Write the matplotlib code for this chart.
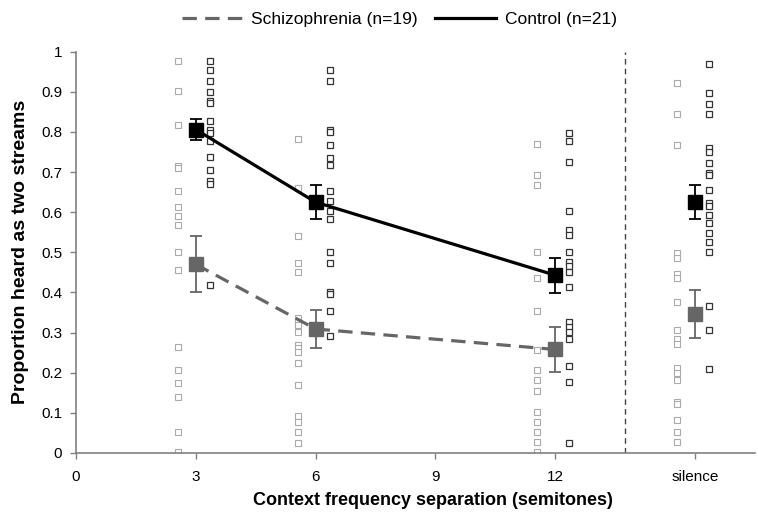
import matplotlib.pyplot as plt
from matplotlib.lines import Line2D
from matplotlib.ticker import FuncFormatter

plt.rcParams['font.family'] = ['Liberation Sans', 'DejaVu Sans']

# x positions of the conditions (semitones; "silence" sits past the dashed line)
cond_x = [3, 6, 12, 15.5]
x_tick_pos = [0, 3, 6, 9, 12, 15.5]
x_tick_labels = ['0', '3', '6', '9', '12', 'silence']

# individual participants, schizophrenia group
scz_3 = [0.978, 0.902, 0.817, 0.715, 0.71, 0.653, 0.614, 0.591, 0.568, 0.502,
         0.457, 0.265, 0.207, 0.174, 0.140, 0.053, 0.003]
scz_6 = [0.782, 0.661, 0.541, 0.474, 0.452, 0.336, 0.327, 0.319, 0.302, 0.269,
         0.261, 0.252, 0.225, 0.169, 0.092, 0.078, 0.053, 0.026]
scz_12 = [0.770, 0.694, 0.669, 0.502, 0.437, 0.354, 0.257, 0.207, 0.182, 0.154,
          0.103, 0.078, 0.053, 0.028, 0.003]
scz_sil = [0.921, 0.846, 0.767, 0.498, 0.487, 0.446, 0.435, 0.377, 0.306, 0.283,
           0.272, 0.211, 0.199, 0.182, 0.128, 0.122, 0.082, 0.053, 0.028]

# individual participants, control group
ctl_3 = [0.978, 0.954, 0.928, 0.899, 0.877, 0.872, 0.828, 0.805, 0.798, 0.777,
         0.738, 0.705, 0.679, 0.670, 0.419]
ctl_6 = [0.954, 0.927, 0.805, 0.799, 0.767, 0.734, 0.718, 0.653, 0.628, 0.603,
         0.582, 0.502, 0.474, 0.402, 0.395, 0.354, 0.292]
ctl_12 = [0.798, 0.778, 0.726, 0.603, 0.556, 0.543, 0.502, 0.477, 0.466, 0.452,
          0.413, 0.327, 0.313, 0.302, 0.284, 0.218, 0.176, 0.026]
ctl_sil = [0.969, 0.896, 0.869, 0.845, 0.759, 0.751, 0.723, 0.698, 0.693, 0.655,
           0.624, 0.616, 0.593, 0.572, 0.549, 0.527, 0.502, 0.367, 0.306, 0.209]

# group means and standard errors
scz_mean = [0.470, 0.309, 0.258, 0.346]
scz_se = [0.070, 0.047, 0.057, 0.060]
ctl_mean = [0.806, 0.625, 0.443, 0.626]
ctl_se = [0.027, 0.042, 0.044, 0.042]

scz_points = [scz_3, scz_6, scz_12, scz_sil]
ctl_points = [ctl_3, ctl_6, ctl_12, ctl_sil]

scz_offset = -0.45
ctl_offset = 0.35

fig = plt.figure(figsize=(7.58, 5.15), dpi=100)
ax = fig.add_axes([0.1003, 0.1204, 0.8957, 0.7792])

for cx, pts in zip(cond_x, scz_points):
    ax.plot([cx + scz_offset] * len(pts), pts, 's', ms=4.4, mfc='white',
            mec='#aaaaaa', mew=0.8, ls='none', zorder=2)
for cx, pts in zip(cond_x, ctl_points):
    ax.plot([cx + ctl_offset] * len(pts), pts, 's', ms=4.4, mfc='white',
            mec='#333333', mew=0.9, ls='none', zorder=2)

# connecting lines for the three frequency separations
ax.plot(cond_x[:3], scz_mean[:3], color='#666666', lw=2.3,
        ls=(0, (4.5, 2.6)), zorder=3)
ax.plot(cond_x[:3], ctl_mean[:3], color='black', lw=2.3, zorder=3)

ax.errorbar(cond_x, scz_mean, yerr=scz_se, fmt='s', ms=10, color='#666666',
            ecolor='#666666', elinewidth=1.3, capsize=4, capthick=1.3, zorder=4)
ax.errorbar(cond_x, ctl_mean, yerr=ctl_se, fmt='s', ms=10, color='black',
            ecolor='black', elinewidth=1.3, capsize=4, capthick=1.3, zorder=4)

ax.axvline(13.75, color='#444444', lw=1.0, ls=(0, (4, 3)), zorder=1)

ax.set_xlim(0, 17)
ax.set_ylim(0, 1)
ax.set_xticks(x_tick_pos)
ax.set_xticklabels(x_tick_labels)
ax.set_yticks([i / 10 for i in range(11)])
ax.yaxis.set_major_formatter(FuncFormatter(lambda v, p: '%g' % round(v, 1)))

for side in ['top', 'right']:
    ax.spines[side].set_visible(False)
for side in ['left', 'bottom']:
    ax.spines[side].set_color('#808080')
    ax.spines[side].set_linewidth(1.2)
ax.tick_params(colors='#808080', labelcolor='black', length=4, width=1.0,
               labelsize=11)
ax.tick_params(axis='x', pad=8)
ax.tick_params(axis='y', pad=6)
ax.spines['bottom'].set_zorder(5)

ax.set_xlabel('Context frequency separation (semitones)', fontsize=13,
              fontweight='bold')
ax.xaxis.set_label_coords(0.526, -0.098)
ax.set_ylabel('Proportion heard as two streams', fontsize=14,
              fontweight='bold', labelpad=9)

handles = [Line2D([], [], color='#666666', lw=2.3, ls=(0, (4.5, 2.6))),
           Line2D([], [], color='black', lw=2.3)]
fig.legend(handles, ['Schizophrenia (n=19)', 'Control (n=21)'], loc='center',
           bbox_to_anchor=(0.527, 0.963), ncol=2, frameon=False, fontsize=12.5,
           handlelength=3.5, handletextpad=0.5, columnspacing=1.0)

fig.savefig('out.png', dpi=100)
